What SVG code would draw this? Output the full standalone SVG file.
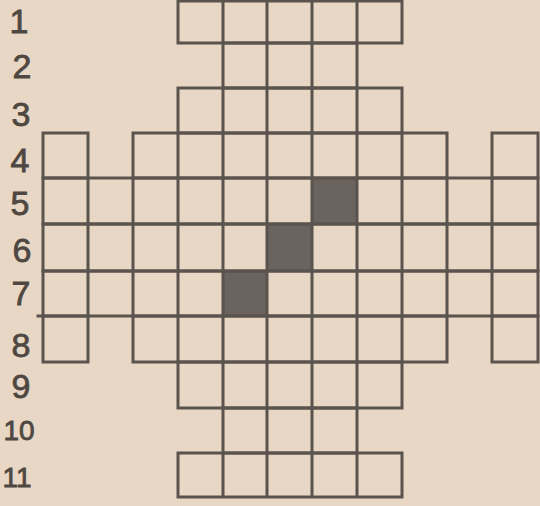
<svg xmlns="http://www.w3.org/2000/svg" width="540" height="506" viewBox="0 0 540 506">
<style>
.bg{fill:#e8d7c4}
.shade{fill:#6b635d}
.grid{fill:none;stroke:#5b534d;stroke-width:3;stroke-linecap:square;stroke-linejoin:miter}
.num{font-family:"Liberation Sans",Arial,sans-serif;font-size:34px;fill:#4f4842;stroke:#4f4842;stroke-width:0.8;text-anchor:middle}
.num2{font-size:28px}
</style>
<rect class="bg" x="0" y="0" width="540" height="506"/>
<g id="shaded">
<rect class="shade" x="312" y="178" width="45" height="46"/>
<rect class="shade" x="267" y="224" width="45" height="47"/>
<rect class="shade" x="223" y="271" width="44" height="45"/>
</g>
<g id="grid">
<g id="row1"><path class="grid" d="M178 1H402V43H178Z M223 1V43 M267 1V43 M312 1V43 M357 1V43"/></g>
<g id="row2"><path class="grid" d="M223 43H357V88H223Z M267 43V88 M312 43V88"/></g>
<g id="row3"><path class="grid" d="M178 88H402V133H178Z M223 88V133 M267 88V133 M312 88V133 M357 88V133"/></g>
<g id="row4"><path class="grid" d="M43 133H88V178H43Z M133 133H447V178H133Z M178 133V178 M223 133V178 M267 133V178 M312 133V178 M357 133V178 M402 133V178 M492 133H538V178H492Z"/></g>
<g id="row5"><path class="grid" d="M43 178H538V224H43Z M88 178V224 M133 178V224 M178 178V224 M223 178V224 M267 178V224 M312 178V224 M357 178V224 M402 178V224 M447 178V224 M492 178V224"/></g>
<g id="row6"><path class="grid" d="M43 224H538V271H43Z M88 224V271 M133 224V271 M178 224V271 M223 224V271 M267 224V271 M312 224V271 M357 224V271 M402 224V271 M447 224V271 M492 224V271"/></g>
<g id="row7"><path class="grid" d="M43 271H538V316H43Z M88 271V316 M133 271V316 M178 271V316 M223 271V316 M267 271V316 M312 271V316 M357 271V316 M402 271V316 M447 271V316 M492 271V316 M38 316H43"/></g>
<g id="row8"><path class="grid" d="M43 316H88V362H43Z M133 316H447V362H133Z M178 316V362 M223 316V362 M267 316V362 M312 316V362 M357 316V362 M402 316V362 M492 316H538V362H492Z"/></g>
<g id="row9"><path class="grid" d="M178 362H402V408H178Z M223 362V408 M267 362V408 M312 362V408 M357 362V408"/></g>
<g id="row10"><path class="grid" d="M223 408H357V453H223Z M267 408V453 M312 408V453"/></g>
<g id="row11"><path class="grid" d="M178 453H402V497H178Z M223 453V497 M267 453V497 M312 453V497 M357 453V497"/></g>
</g>
<g id="labels">
<text class="num" x="19" y="33">1</text>
<text class="num" x="22" y="78">2</text>
<text class="num" x="21" y="126">3</text>
<text class="num" x="20" y="172">4</text>
<text class="num" x="20" y="215">5</text>
<text class="num" x="22" y="262">6</text>
<text class="num" x="21" y="305">7</text>
<text class="num" x="21" y="357">8</text>
<text class="num" x="21" y="398">9</text>
<text class="num num2" x="19" y="440">10</text>
<text class="num num2" x="17" y="487">11</text>
</g>
</svg>
